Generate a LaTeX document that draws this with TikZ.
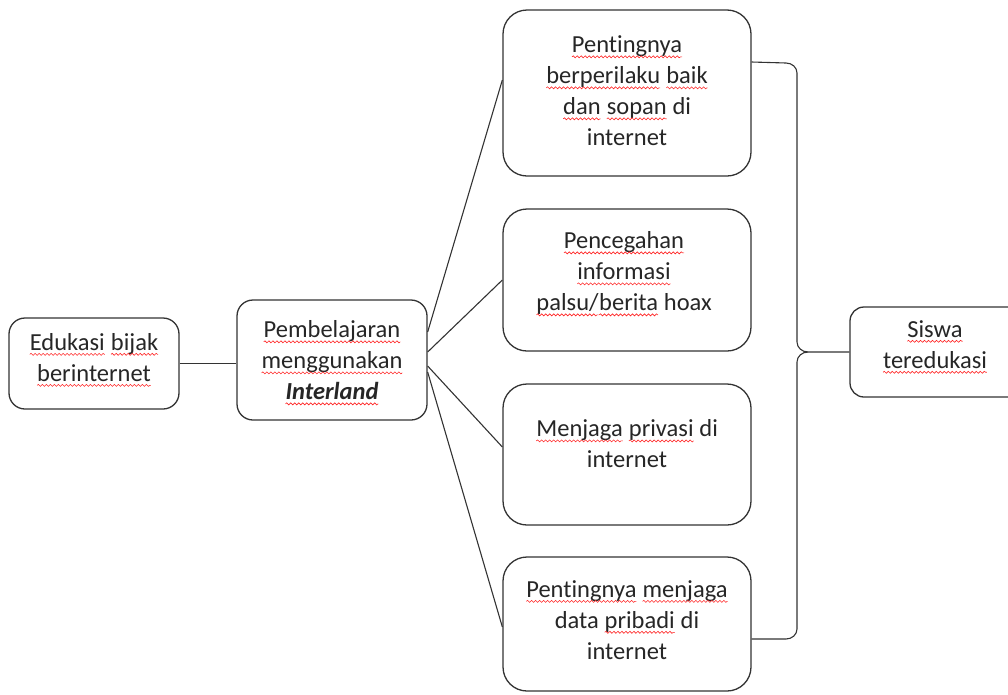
\documentclass[tikz,border=0pt]{standalone}
\usepackage{fontspec}
\setmainfont[Ligatures=NoCommon]{Carlito}
\usetikzlibrary{calc,decorations.pathmorphing}
\newcommand\rw[1]{\tikz[baseline=(w.base)]{\node[inner sep=0pt, outer sep=0pt](w){#1};\draw[red!85, line width=0.6pt, decorate, decoration={snake, amplitude=1pt, segment length=4pt}] ([yshift=-4pt]w.base west) -- ([yshift=-4pt]w.base east);}}
\begin{document}
\begin{tikzpicture}[x=1pt,y=-1pt,
  box/.style={draw=black!80, line width=1.3pt, rounded corners=16pt, inner sep=0pt},
  bigbox/.style={box, rounded corners=24pt, minimum width=248pt},
  txt/.style={align=center, font=\fontsize{24.5}{31}\selectfont, text=black!85, inner sep=0pt},
  link/.style={draw=black!80, line width=1.1pt}]
\useasboundingbox (0,0) rectangle (1008,694);
% boxes
\node[box, minimum width=170pt, minimum height=91pt] (a) at (94,363.5) {};
\node[txt] (at) at (94,360) {\rw{Edukasi} \rw{bijak}\\ \rw{berinternet}};
\node[box, minimum width=190pt, minimum height=120pt] (b) at (332,360) {};
\node[txt] (bt) at (332,363) {\rw{Pembelajaran}\\ \rw{menggunakan}\\ \rw{\textbf{\textit{Interland}}}};
\node[bigbox, minimum height=166pt] (c1) at (627,93) {};
\node[txt] (c1t) at (627,91) {\rw{Pentingnya}\\ \rw{berperilaku} \rw{baik}\\ \rw{dan} \rw{sopan} di\\ internet};
\node[bigbox, minimum height=142pt] (c2) at (627,280) {};
\node[txt] (c2t) at (624,274) {\rw{Pencegahan}\\ \rw{informasi}\\ \rw{palsu/}\rw{berita} hoax};
\node[bigbox, minimum height=141pt] (c3) at (627,454.5) {};
\node[txt] (c3t) at (627,444) {\rw{Menjaga} \rw{privasi} di\\ internet};
\node[bigbox, minimum height=134pt] (c4) at (627,624) {};
\node[txt] (c4t) at (627,620) {\rw{Pentingnya} \rw{menjaga}\\ data \rw{pribadi} di\\ internet};
\node[box, rounded corners=14pt, minimum width=175pt, minimum height=90pt] (d) at (937.5,352) {};
\node[txt] (dt) at (935,347) {\rw{Siswa}\\ \rw{teredukasi}};
% connectors
\draw[link] (a.east) -- (a.east -| b.west);
\draw[link] ($(b.east)+(0,-28)$) -- ($(c1.west)+(0,-13)$);
\draw[link] ($(b.east)+(0,-8)$) -- (c2.west);
\draw[link] ($(b.east)+(0,6)$) -- ($(c3.west)+(0,-7.5)$);
\draw[link] ($(b.east)+(0,12)$) -- ($(c4.west)+(0,3)$);
% brace
\coordinate (btop) at ($(c1.east)+(0,-31)$);
\coordinate (bbot) at ($(c4.east)+(0,15)$);
\coordinate (tip) at (808,352);
\draw[link] (btop) -- (786,63) to[out=0,in=90] (797,73) -- (797,342) to[out=-90,in=180] (tip) -- (d.west);
\draw[link] (tip) to[out=180,in=90] (797,362) -- (797,629) to[out=-90,in=0] (786,639) -- (bbot);
\end{tikzpicture}
\end{document}
